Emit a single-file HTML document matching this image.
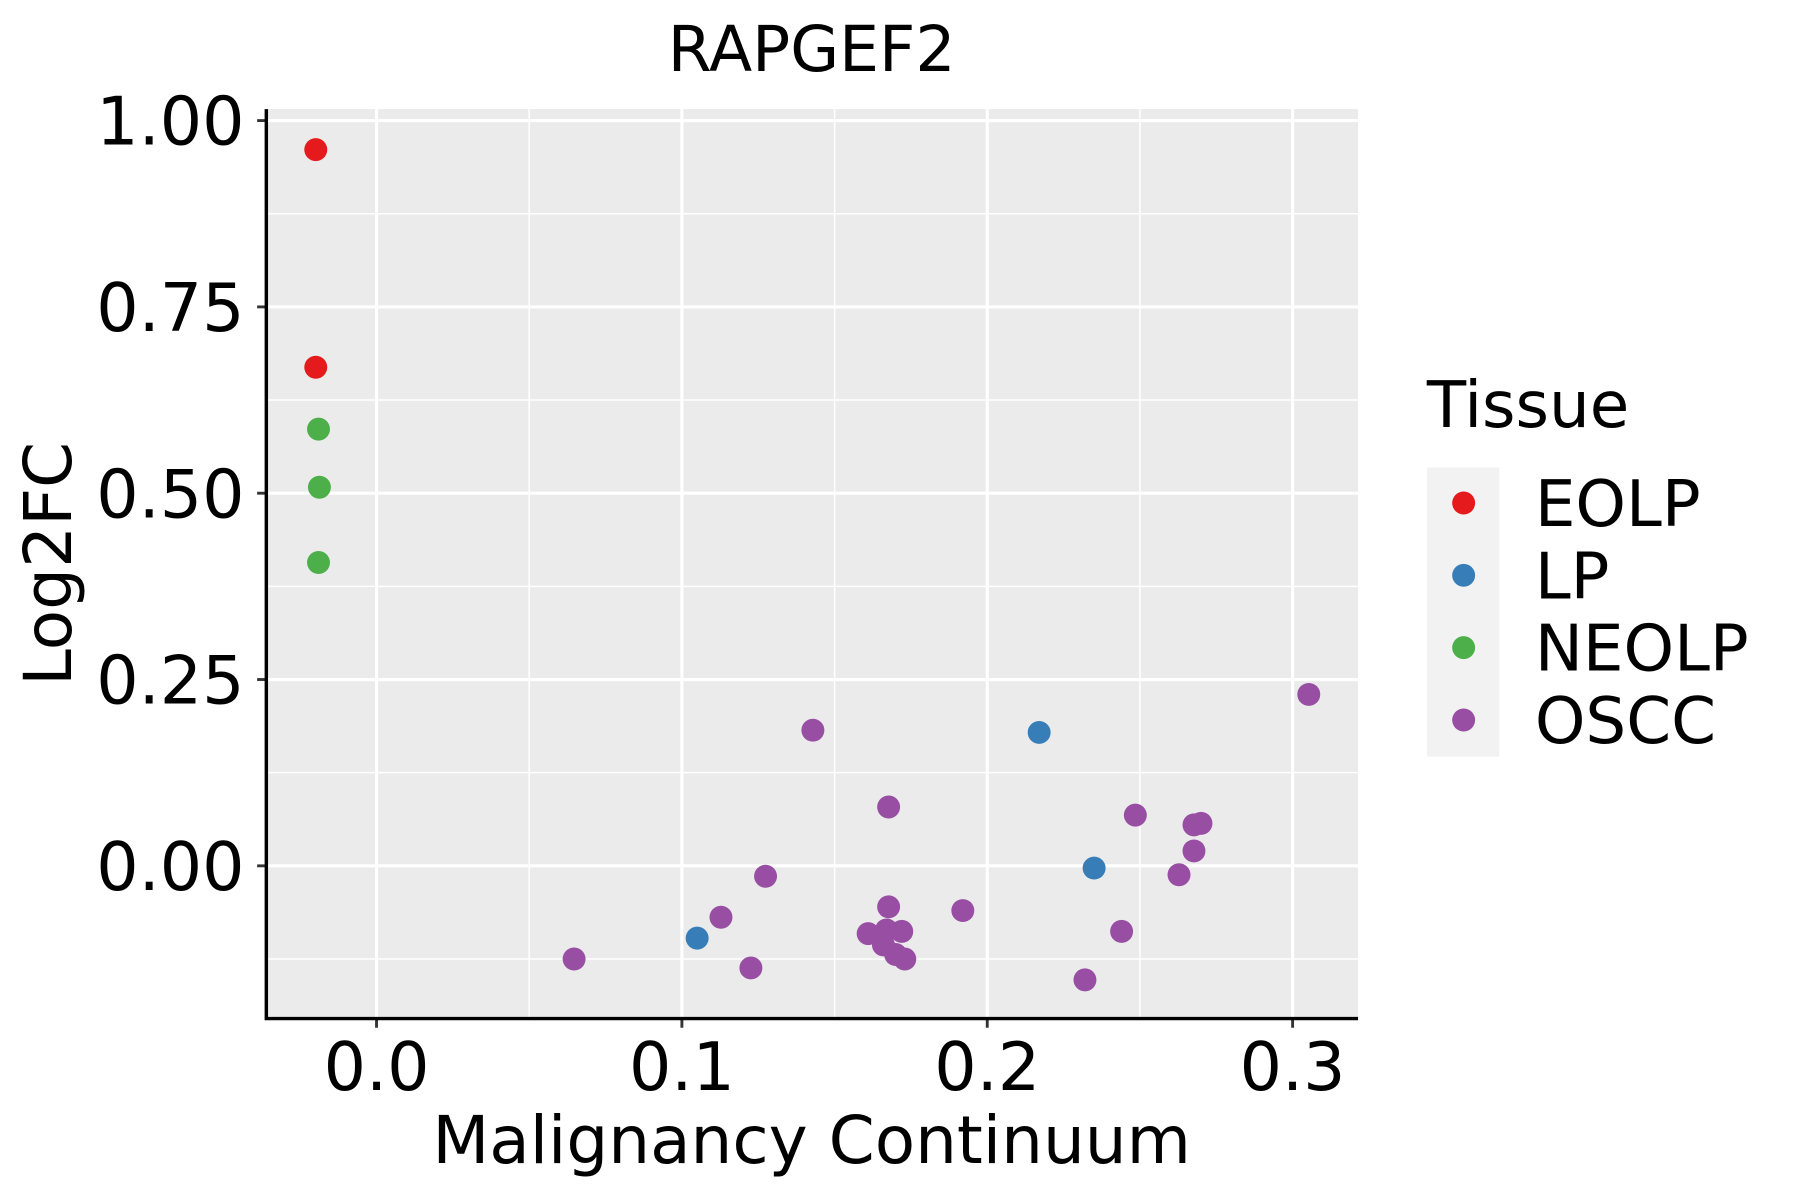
<!DOCTYPE html>
<html><head><meta charset="utf-8"><style>
html,body{margin:0;padding:0;background:#fff;}
svg{display:block;font-family:"DejaVu Sans","Liberation Sans",sans-serif;}
</style></head><body>
<svg id="chart" width="1800" height="1200" viewBox="0 0 1568 1045" preserveAspectRatio="none" xmlns="http://www.w3.org/2000/svg">
<rect x="0" y="0" width="1568" height="1045" fill="#fff"/>
<text x="707" y="62" font-size="55" text-anchor="middle">RAPGEF2</text>
<rect x="232" y="95" width="951" height="792" fill="#ebebeb"/>
<g id="grid"></g>
<g id="axes"></g>
<g id="points"></g>
<text x="707" y="1013" font-size="57.5" text-anchor="middle">Malignancy Continuum</text>
<text transform="translate(62,491) rotate(-90)" font-size="57.5" text-anchor="middle">Log2FC</text>
<g>
<text x="1243" y="372" font-size="56">Tissue</text>
<rect x="1243" y="407" width="63" height="252" fill="#f2f2f2"/>
<g id="legend-entries"></g>
</g>
</svg>
<script>
const categories = ["EOLP","LP","NEOLP","OSCC"];
const colors = ["#e41a1c","#377eb8","#4daf4a","#984ea3"];
const eolpX = [-0.0199,-0.0199];
const eolpY = [0.961,0.669];
const lpX = [0.105,0.217,0.235];
const lpY = [-0.097,0.179,-0.003];
const neolpX = [-0.019,-0.0187,-0.019];
const neolpY = [0.586,0.508,0.407];
const osccX = [0.0647,0.1128,0.1226,0.1274,0.1429,0.1677,0.1677,0.161,0.167,0.172,0.166,0.170,0.173,0.192,0.232,0.244,0.2485,0.2628,0.2677,0.2677,0.270,0.3053];
const osccY = [-0.125,-0.069,-0.137,-0.014,0.182,0.079,-0.055,-0.091,-0.086,-0.088,-0.106,-0.119,-0.125,-0.060,-0.153,-0.088,0.068,-0.012,0.020,0.055,0.057,0.230];
const xTicks = [0.0,0.1,0.2,0.3];
const xTickLabels = ["0.0","0.1","0.2","0.3"];
const xMinor = [-0.05,0.05,0.15,0.25];
const yTicks = [0,0.25,0.5,0.75,1.0];
const yTickLabels = ["0.00","0.25","0.50","0.75","1.00"];
const yMinor = [-0.125,0.125,0.375,0.625,0.875];

const NS="http://www.w3.org/2000/svg";
const L=232,R=1183,T=95,B=887;
function xs(v){return 328+v*2660;}
function ys(v){return 754-v*649;}
function mk(tag,attrs,parent){const e=document.createElementNS(NS,tag);for(const k in attrs)e.setAttribute(k,attrs[k]);parent.appendChild(e);return e;}
const grid=document.getElementById('grid'),axes=document.getElementById('axes'),pts=document.getElementById('points');
xMinor.forEach(v=>{const x=xs(v);if(x<L||x>R)return;
 const e=mk('line',{x1:x,x2:x,y1:T,y2:B,stroke:'#fff','stroke-width':1.3},grid);
 
 });
yMinor.forEach(v=>{const y=ys(v);if(y<T||y>B)return;
 const e=mk('line',{x1:L,x2:R,y1:y,y2:y,stroke:'#fff','stroke-width':1.3},grid);
 
 });
xTicks.forEach((v,i)=>{const x=xs(v);
 const g=mk('line',{x1:x,x2:x,y1:T,y2:B,stroke:'#fff','stroke-width':2.7},grid);
 
 
 const t=mk('line',{x1:x,x2:x,y1:B,y2:B+8,stroke:'#333','stroke-width':2.5},axes);
 
 
 const l=mk('text',{x:x,y:949,'font-size':58,'text-anchor':'middle',fill:'#000'},axes);l.textContent=xTickLabels[i];
 
 });
yTicks.forEach((v,i)=>{const y=ys(v);
 const g=mk('line',{x1:L,x2:R,y1:y,y2:y,stroke:'#fff','stroke-width':2.7},grid);
 
 
 const t=mk('line',{x1:L-8,x2:L,y1:y,y2:y,stroke:'#333','stroke-width':2.5},axes);
 
 
 const l=mk('text',{x:213,y:y+21,'font-size':58,'text-anchor':'end',fill:'#000'},axes);l.textContent=yTickLabels[i];
 
 });
const ax=mk('path',{d:`M${L},${T} V${B} H${R}`,fill:'none',stroke:'#000','stroke-width':3},axes);


const series=[[eolpX,eolpY],[lpX,lpY],[neolpX,neolpY],[osccX,osccY]];
series.forEach((s,si)=>{s[0].forEach((xv,j)=>{
 const c=mk('circle',{cx:xs(xv),cy:ys(s[1][j]),r:10,fill:colors[si]},pts);
 
 });});
const le=document.getElementById('legend-entries');
categories.forEach((c,i)=>{const y=438+i*63;
 const d=mk('circle',{cx:1275,cy:y,r:10,fill:colors[i]},le);
 
 
 const t=mk('text',{x:1337,y:y+20,'font-size':56},le);t.textContent=c;
 
 });
</script>
</body></html>
